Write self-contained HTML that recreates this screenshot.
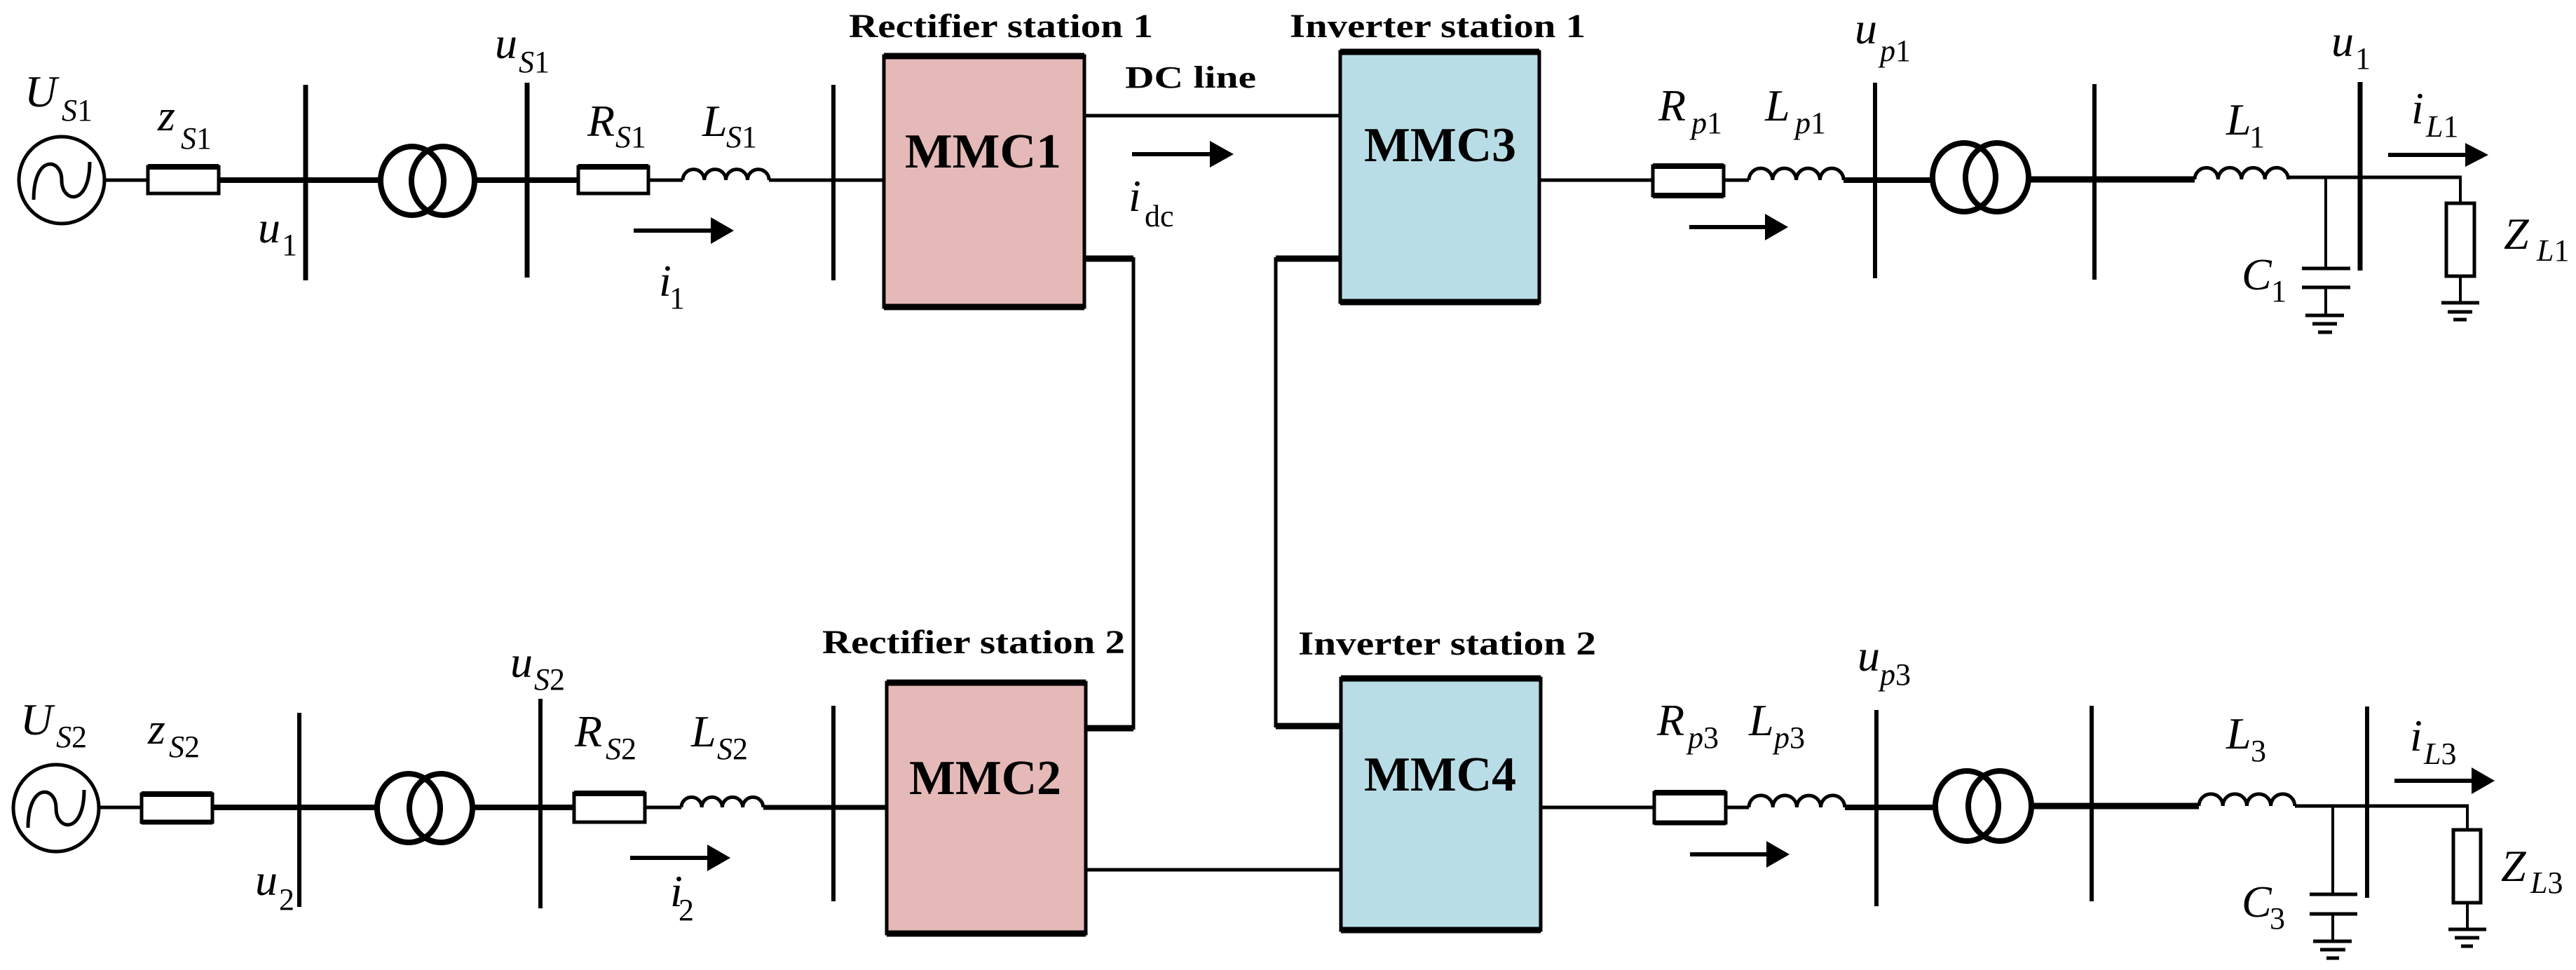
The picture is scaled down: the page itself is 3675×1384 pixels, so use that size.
<!DOCTYPE html>
<html><head><meta charset="utf-8"><style>
html,body{margin:0;padding:0;background:#fff;}
svg{display:block;}
text{font-family:"Liberation Serif",serif;fill:#000;}
.it{font-style:italic;}
.b{font-weight:bold;}
</style></head><body>
<svg width="3675" height="1384" viewBox="0 0 3675 1384" xmlns="http://www.w3.org/2000/svg">
<defs>
<marker id="ah" markerWidth="10" markerHeight="10" refX="0" refY="5" orient="auto" markerUnits="userSpaceOnUse"></marker>
</defs>
<g stroke="#000" fill="none" stroke-linecap="butt">
<!-- ============ TOP ROW ============ -->
<!-- source -->
<ellipse cx="88" cy="257" rx="61" ry="62" stroke-width="5"/>
<path d="M48 285 C48 220 88 225 88 257 C88 290 128 295 128 231" stroke-width="5"/>
<line x1="150" y1="257" x2="211" y2="257" stroke-width="5"/>
<rect x="211" y="238" width="101" height="38" fill="#fff" stroke-width="5"/>
<line x1="211" y1="238" x2="312" y2="238" stroke-width="8"/>
<line x1="312" y1="257" x2="542" y2="257" stroke-width="8"/>
<line x1="436" y1="121" x2="436" y2="400" stroke-width="7"/>
<ellipse cx="588" cy="258" rx="45" ry="49" stroke-width="8"/>
<ellipse cx="632" cy="258" rx="45" ry="49" stroke-width="8"/>
<line x1="677" y1="257" x2="825" y2="257" stroke-width="8"/>
<line x1="752" y1="118" x2="752" y2="396" stroke-width="7"/>
<rect x="825" y="238" width="100" height="38" fill="#fff" stroke-width="5"/>
<line x1="825" y1="238" x2="925" y2="238" stroke-width="8"/>
<line x1="925" y1="257" x2="974" y2="257" stroke-width="5"/>
<path d="M974 257 a15.4 15.4 0 0 1 30.8 0 a15.4 15.4 0 0 1 30.8 0 a15.4 15.4 0 0 1 30.8 0 a15.4 15.4 0 0 1 30.8 0" stroke-width="5"/>
<line x1="1097" y1="257" x2="1261" y2="257" stroke-width="5"/>
<line x1="1189" y1="121" x2="1189" y2="400" stroke-width="6"/>
<!-- MMC1 -->
<rect x="1261" y="80" width="286" height="358" fill="#e4b9b7" stroke-width="5"/>
<line x1="1261" y1="80" x2="1547" y2="80" stroke-width="9"/>
<line x1="1261" y1="438" x2="1547" y2="438" stroke-width="9"/>
<line x1="1547" y1="165" x2="1917" y2="165" stroke-width="5"/>
<line x1="1547" y1="369" x2="1617" y2="369" stroke-width="9"/>
<line x1="1617" y1="367" x2="1617" y2="1041" stroke-width="5"/>
<!-- MMC3 -->
<rect x="1912" y="74" width="284" height="357" fill="#b9dde6" stroke-width="5"/>
<line x1="1912" y1="74" x2="2196" y2="74" stroke-width="9"/>
<line x1="1912" y1="431" x2="2196" y2="431" stroke-width="9"/>
<line x1="1820" y1="369" x2="1912" y2="369" stroke-width="9"/>
<line x1="1820" y1="367" x2="1820" y2="1038" stroke-width="5"/>
<line x1="2196" y1="257" x2="2358" y2="257" stroke-width="5"/>
<rect x="2358" y="237" width="101" height="42" fill="#fff" stroke-width="5"/>
<line x1="2358" y1="237" x2="2459" y2="237" stroke-width="8"/>
<line x1="2358" y1="279" x2="2459" y2="279" stroke-width="8"/>
<line x1="2459" y1="257" x2="2495" y2="257" stroke-width="5"/>
<path d="M2495 257 a16.9 16.9 0 0 1 33.8 0 a16.9 16.9 0 0 1 33.8 0 a16.9 16.9 0 0 1 33.8 0 a16.9 16.9 0 0 1 33.8 0" stroke-width="5"/>
<line x1="2630" y1="257" x2="2756" y2="257" stroke-width="8"/>
<line x1="2675" y1="118" x2="2675" y2="397" stroke-width="6"/>
<ellipse cx="2802" cy="253" rx="45" ry="49" stroke-width="8"/>
<ellipse cx="2849" cy="253" rx="45" ry="49" stroke-width="8"/>
<line x1="2894" y1="256" x2="3131" y2="256" stroke-width="9"/>
<line x1="2988" y1="120" x2="2988" y2="399" stroke-width="6"/>
<path d="M3131 256 a16.7 16.7 0 0 1 33.4 0 a16.7 16.7 0 0 1 33.4 0 a16.7 16.7 0 0 1 33.4 0 a16.7 16.7 0 0 1 33.4 0" stroke-width="5"/>
<line x1="3265" y1="253" x2="3512" y2="253" stroke-width="5"/>
<line x1="3367" y1="117" x2="3367" y2="386" stroke-width="7"/>
<line x1="3318" y1="253" x2="3318" y2="383" stroke-width="4"/>
<line x1="3284" y1="383" x2="3353" y2="383" stroke-width="5"/>
<line x1="3284" y1="410" x2="3353" y2="410" stroke-width="5"/>
<line x1="3318" y1="410" x2="3318" y2="450" stroke-width="4"/>
<line x1="3289" y1="450" x2="3344" y2="450" stroke-width="5"/>
<line x1="3299" y1="462" x2="3334" y2="462" stroke-width="5"/>
<line x1="3307" y1="474" x2="3327" y2="474" stroke-width="5"/>
<line x1="3510" y1="253" x2="3510" y2="290" stroke-width="4"/>
<rect x="3490" y="290" width="40" height="104" fill="#fff" stroke-width="5"/>
<line x1="3510" y1="394" x2="3510" y2="432" stroke-width="4"/>
<line x1="3483" y1="432" x2="3537" y2="432" stroke-width="5"/>
<line x1="3492" y1="445" x2="3527" y2="445" stroke-width="5"/>
<line x1="3500" y1="456" x2="3519" y2="456" stroke-width="5"/>

<!-- ============ BOTTOM ROW ============ -->
<ellipse cx="80" cy="1153" rx="61" ry="62" stroke-width="5"/>
<path d="M40 1181 C40 1116 80 1121 80 1153 C80 1186 120 1191 120 1127" stroke-width="5"/>
<line x1="141" y1="1152" x2="202" y2="1152" stroke-width="5"/>
<rect x="202" y="1133" width="101" height="40" fill="#fff" stroke-width="5"/>
<line x1="202" y1="1133" x2="303" y2="1133" stroke-width="8"/>
<line x1="202" y1="1173" x2="303" y2="1173" stroke-width="7"/>
<line x1="303" y1="1152" x2="537" y2="1152" stroke-width="8"/>
<line x1="427" y1="1017" x2="427" y2="1294" stroke-width="6"/>
<ellipse cx="583" cy="1153" rx="45" ry="49" stroke-width="8"/>
<ellipse cx="629" cy="1153" rx="45" ry="49" stroke-width="8"/>
<line x1="674" y1="1152" x2="819" y2="1152" stroke-width="8"/>
<line x1="771" y1="997" x2="771" y2="1296" stroke-width="6"/>
<rect x="819" y="1132" width="101" height="41" fill="#fff" stroke-width="5"/>
<line x1="819" y1="1132" x2="920" y2="1132" stroke-width="8"/>
<line x1="920" y1="1152" x2="972" y2="1152" stroke-width="5"/>
<path d="M972 1152 a14.6 14.6 0 0 1 29.2 0 a14.6 14.6 0 0 1 29.2 0 a14.6 14.6 0 0 1 29.2 0 a14.6 14.6 0 0 1 29.2 0" stroke-width="5"/>
<line x1="1089" y1="1152" x2="1265" y2="1152" stroke-width="7"/>
<line x1="1189" y1="1007" x2="1189" y2="1286" stroke-width="6"/>
<!-- MMC2 -->
<rect x="1265" y="974" width="284" height="358" fill="#e4b9b7" stroke-width="5"/>
<line x1="1265" y1="974" x2="1549" y2="974" stroke-width="9"/>
<line x1="1265" y1="1332" x2="1549" y2="1332" stroke-width="9"/>
<line x1="1549" y1="1039" x2="1617" y2="1039" stroke-width="9"/>
<line x1="1549" y1="1241" x2="1913" y2="1241" stroke-width="5"/>
<!-- MMC4 -->
<rect x="1913" y="968" width="285" height="359" fill="#b9dde6" stroke-width="5"/>
<line x1="1913" y1="968" x2="2198" y2="968" stroke-width="9"/>
<line x1="1913" y1="1327" x2="2198" y2="1327" stroke-width="9"/>
<line x1="1820" y1="1036" x2="1913" y2="1036" stroke-width="9"/>
<line x1="2198" y1="1152" x2="2360" y2="1152" stroke-width="5"/>
<rect x="2360" y="1131" width="102" height="43" fill="#fff" stroke-width="5"/>
<line x1="2360" y1="1131" x2="2462" y2="1131" stroke-width="8"/>
<line x1="2360" y1="1174" x2="2462" y2="1174" stroke-width="7"/>
<line x1="2462" y1="1152" x2="2495" y2="1152" stroke-width="5"/>
<path d="M2495 1152 a17.1 17.1 0 0 1 34.2 0 a17.1 17.1 0 0 1 34.2 0 a17.1 17.1 0 0 1 34.2 0 a17.1 17.1 0 0 1 34.2 0" stroke-width="5"/>
<line x1="2632" y1="1152" x2="2761" y2="1152" stroke-width="8"/>
<line x1="2677" y1="1013" x2="2677" y2="1293" stroke-width="6"/>
<ellipse cx="2806" cy="1150" rx="45" ry="50" stroke-width="8"/>
<ellipse cx="2853" cy="1150" rx="45" ry="50" stroke-width="8"/>
<line x1="2898" y1="1150" x2="3137" y2="1150" stroke-width="9"/>
<line x1="2984" y1="1007" x2="2984" y2="1286" stroke-width="6"/>
<path d="M3137 1150 a17.1 17.1 0 0 1 34.2 0 a17.1 17.1 0 0 1 34.2 0 a17.1 17.1 0 0 1 34.2 0 a17.1 17.1 0 0 1 34.2 0" stroke-width="5"/>
<line x1="3274" y1="1150" x2="3522" y2="1150" stroke-width="5"/>
<line x1="3377" y1="1008" x2="3377" y2="1281" stroke-width="6"/>
<line x1="3328" y1="1150" x2="3328" y2="1276" stroke-width="4"/>
<line x1="3295" y1="1276" x2="3363" y2="1276" stroke-width="5"/>
<line x1="3295" y1="1304" x2="3363" y2="1304" stroke-width="5"/>
<line x1="3328" y1="1304" x2="3328" y2="1343" stroke-width="4"/>
<line x1="3300" y1="1343" x2="3355" y2="1343" stroke-width="5"/>
<line x1="3310" y1="1355" x2="3346" y2="1355" stroke-width="5"/>
<line x1="3319" y1="1367" x2="3337" y2="1367" stroke-width="5"/>
<line x1="3520" y1="1150" x2="3520" y2="1184" stroke-width="4"/>
<rect x="3500" y="1184" width="39" height="104" fill="#fff" stroke-width="5"/>
<line x1="3520" y1="1288" x2="3520" y2="1326" stroke-width="4"/>
<line x1="3493" y1="1326" x2="3547" y2="1326" stroke-width="5"/>
<line x1="3502" y1="1338" x2="3537" y2="1338" stroke-width="5"/>
<line x1="3511" y1="1350" x2="3528" y2="1350" stroke-width="5"/>

<!-- arrows -->
<line x1="904" y1="329" x2="1020" y2="329" stroke-width="6"/>
<line x1="1615" y1="220" x2="1732" y2="220" stroke-width="6"/>
<line x1="2410" y1="324" x2="2524" y2="324" stroke-width="6"/>
<line x1="3407" y1="221" x2="3520" y2="221" stroke-width="6"/>
<line x1="899" y1="1224" x2="1015" y2="1224" stroke-width="6"/>
<line x1="2411" y1="1219" x2="2526" y2="1219" stroke-width="6"/>
<line x1="3416" y1="1114" x2="3532" y2="1114" stroke-width="6"/>
</g>
<g fill="#000">
<polygon points="1014,310 1047,329 1014,348"/>
<polygon points="1726,201 1760,220 1726,239"/>
<polygon points="2518,305 2551,324 2518,343"/>
<polygon points="3517,204 3550,221 3517,238"/>
<polygon points="1009,1205 1042,1224 1009,1243"/>
<polygon points="2520,1200 2553,1219 2520,1238"/>
<polygon points="3526,1095 3559,1114 3526,1133"/>
</g>

<!-- bold labels -->
<text class="b" x="1211" y="53" font-size="48" textLength="434" lengthAdjust="spacingAndGlyphs">Rectifier station 1</text>
<text class="b" x="1840" y="53" font-size="48" textLength="422" lengthAdjust="spacingAndGlyphs">Inverter station 1</text>
<text class="b" x="1605" y="125" font-size="44" textLength="187" lengthAdjust="spacingAndGlyphs">DC line</text>
<text class="b" x="1173" y="932" font-size="48" textLength="432" lengthAdjust="spacingAndGlyphs">Rectifier station 2</text>
<text class="b" x="1852" y="934" font-size="48" textLength="425" lengthAdjust="spacingAndGlyphs">Inverter station 2</text>
<text class="b" x="1291" y="239" font-size="70" textLength="223" lengthAdjust="spacingAndGlyphs">MMC1</text>
<text class="b" x="1946" y="230" font-size="70" textLength="217" lengthAdjust="spacingAndGlyphs">MMC3</text>
<text class="b" x="1297" y="1133" font-size="70" textLength="217" lengthAdjust="spacingAndGlyphs">MMC2</text>
<text class="b" x="1946" y="1128" font-size="70" textLength="217" lengthAdjust="spacingAndGlyphs">MMC4</text>

<!-- italic symbols -->
<g class="it" font-size="64">
<text x="35" y="152">U</text>
<text x="225" y="186">z</text>
<text x="706" y="83">u</text>
<text x="368" y="346">u</text>
<text x="838" y="194">R</text>
<text x="1002" y="194">L</text>
<text x="940" y="422">i</text>
<text x="1610" y="301">i</text>
<text x="2646" y="62">u</text>
<text x="3326" y="80">u</text>
<text x="2366" y="172">R</text>
<text x="2518" y="172">L</text>
<text x="3176" y="192">L</text>
<text x="3440" y="176">i</text>
<text x="3572" y="355">Z</text>
<text x="3198" y="413">C</text>

<text x="29" y="1048">U</text>
<text x="211" y="1061">z</text>
<text x="728" y="966">u</text>
<text x="364" y="1277">u</text>
<text x="820" y="1065">R</text>
<text x="986" y="1065">L</text>
<text x="956" y="1293">i</text>
<text x="2650" y="957">u</text>
<text x="2364" y="1049">R</text>
<text x="2495" y="1049">L</text>
<text x="3176" y="1068">L</text>
<text x="3438" y="1071">i</text>
<text x="3568" y="1257">Z</text>
<text x="3198" y="1308">C</text>
</g>
<!-- subscripts -->
<g font-size="44">
<text x="88" y="172"><tspan class="it">S</tspan>1</text>
<text x="258" y="212"><tspan class="it">S</tspan>1</text>
<text x="740" y="103"><tspan class="it">S</tspan>1</text>
<text x="402" y="364">1</text>
<text x="878" y="210"><tspan class="it">S</tspan>1</text>
<text x="1036" y="210"><tspan class="it">S</tspan>1</text>
<text x="955" y="440">1</text>
<text x="1633" y="323">dc</text>
<text x="2682" y="87"><tspan class="it">p</tspan>1</text>
<text x="3360" y="98">1</text>
<text x="2413" y="190"><tspan class="it">p</tspan>1</text>
<text x="2561" y="190"><tspan class="it">p</tspan>1</text>
<text x="3209" y="210">1</text>
<text x="3461" y="195"><tspan class="it">L</tspan>1</text>
<text x="3619" y="372"><tspan class="it">L</tspan>1</text>
<text x="3240" y="430">1</text>

<text x="80" y="1066"><tspan class="it">S</tspan>2</text>
<text x="241" y="1080"><tspan class="it">S</tspan>2</text>
<text x="762" y="984"><tspan class="it">S</tspan>2</text>
<text x="398" y="1298">2</text>
<text x="864" y="1083"><tspan class="it">S</tspan>2</text>
<text x="1023" y="1083"><tspan class="it">S</tspan>2</text>
<text x="968" y="1313">2</text>
<text x="2682" y="977"><tspan class="it">p</tspan>3</text>
<text x="2408" y="1067"><tspan class="it">p</tspan>3</text>
<text x="2531" y="1067"><tspan class="it">p</tspan>3</text>
<text x="3211" y="1086">3</text>
<text x="3458" y="1090"><tspan class="it">L</tspan>3</text>
<text x="3610" y="1274"><tspan class="it">L</tspan>3</text>
<text x="3238" y="1325">3</text>
</g>
</svg>
</body></html>
